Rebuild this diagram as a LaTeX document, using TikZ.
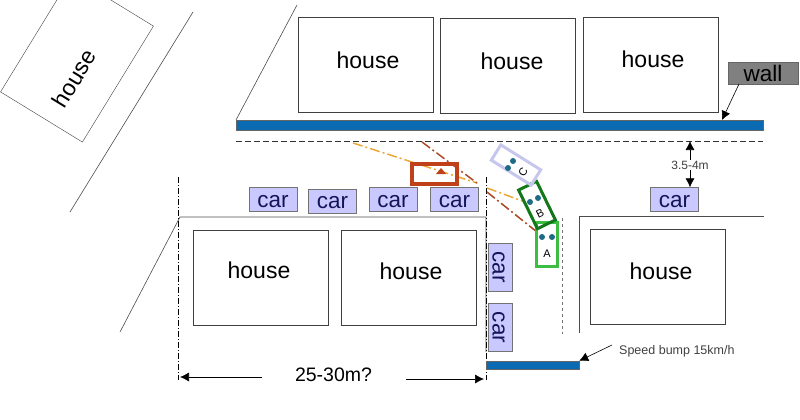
\documentclass[tikz,border=0pt]{standalone}
\usepackage{fontspec}
\setmainfont{Liberation Sans}
\usetikzlibrary{arrows.meta}
\definecolor{wallblue}{rgb}{0.04, 0.42, 0.70}
\definecolor{carblue}{rgb}{0.79, 0.79, 1.00}
\definecolor{carink}{rgb}{0.08, 0.08, 0.35}
\definecolor{lightgreen}{rgb}{0.24, 0.74, 0.26}
\definecolor{darkgreen}{rgb}{0.07, 0.47, 0.10}
\definecolor{lavender}{rgb}{0.78, 0.78, 0.93}
\definecolor{brickred}{rgb}{0.75, 0.25, 0.10}
\definecolor{sightorange}{rgb}{0.92, 0.66, 0.22}
\definecolor{sightred}{rgb}{0.68, 0.30, 0.16}
\definecolor{dotteal}{rgb}{0.12, 0.42, 0.52}
\tikzset{
  housebox/.style={draw=black!75, fill=white, inner sep=0pt, minimum width=135pt, minimum height=95pt},
  housetext/.style={inner sep=0pt, font=\fontsize{23}{26}\selectfont},
  carbox/.style={draw=black!55, fill=carblue, text=carink, inner sep=0pt, minimum width=48pt, minimum height=24pt, text height=15pt, text depth=0pt, font=\fontsize{22.5}{25}\selectfont},
  wallbar/.style={draw=black!60, fill=wallblue, inner sep=0pt},
  vehicle/.style={draw, inner sep=0pt},
  vehicletext/.style={inner sep=0pt, font=\fontsize{11}{13}\selectfont},
  seat/.style={circle, fill=dotteal, inner sep=0pt, minimum size=6pt},
  edgeline/.style={draw=black!70, line width=.6pt},
  dimline/.style={black, line width=.6pt, dash pattern=on 6pt off 2pt on 1pt off 2pt},
  sightline/.style={line width=1.5pt, dash pattern=on 10pt off 3pt on 2pt off 3pt},
  pointer/.style={-{Latex[length=9pt,width=9pt]}, black, line width=.6pt},
  smalltext/.style={text=black!75, inner sep=1pt, font=\fontsize{12.5}{14}\selectfont}
}
\begin{document}
\begin{tikzpicture}[x=1pt,y=-1pt]
\useasboundingbox (0,0) rectangle (800,420);
% houses
\node[housebox, minimum width=136pt, minimum height=96pt, rotate=58.5] (house0) at (77,59) {};
\node[housebox] (house1) at (365.5,64.5) {};
\node[housebox] (house2) at (508,65.5) {};
\node[housebox] (house3) at (650.5,64.5) {};
\node[housebox] (house4) at (261,277.5) {};
\node[housebox] (house5) at (408.5,277.5) {};
\node[housebox] (house6) at (658,276.5) {};
\node[housetext, rotate=58.5] (name0) at (74,78) {house};
\node[housetext] (name1) at (368,60) {house};
\node[housetext] (name2) at (512,61) {house};
\node[housetext] (name3) at (653,59) {house};
\node[housetext] (name4) at (259,270) {house};
\node[housetext] (name5) at (411,271) {house};
\node[housetext] (name6) at (661,271) {house};
% road edges
\coordinate (c1) at (193,12);
\coordinate (c2) at (70,212);
\coordinate (c3) at (297,5);
\coordinate (c4) at (236,120);
\coordinate (c5) at (180,217);
\coordinate (c6) at (120,332);
\coordinate (c7) at (486,217);
\coordinate (c8) at (486,352);
\coordinate (c9) at (764,216);
\coordinate (c10) at (579,216);
\coordinate (c11) at (579,333);
\draw[edgeline] (c1) -- (c2);
\draw[edgeline] (c3) -- (c4);
\draw[edgeline] (c6) -- (c5) -- (c7) -- (c8);
\draw[edgeline] (c9) -- (c10) -- (c11);
% wall
\node[wallbar, minimum width=527pt, minimum height=10pt] (wall) at (499.5,125) {};
\coordinate (d1) at (236,141);
\coordinate (d2) at (763,141);
\draw[black!80, dash pattern=on 6pt off 3pt, line width=.6pt] (d1) -- (d2);
\node[draw=black!60, fill=black!50, inner sep=0pt, minimum width=70pt, minimum height=22pt, font=\fontsize{22.5}{25}\selectfont] (walllabel) at (763,73) {wall};
\coordinate (w1) at (739,84);
\coordinate (w2) at (722,120);
\draw[pointer] (w1) -- (w2);
% cars
\node[carbox] (car1) at (273,199.5) {car};
\node[carbox] (car2) at (332.5,201) {car};
\node[carbox] (car3) at (393,199.5) {car};
\node[carbox] (car4) at (454.5,199.5) {car};
\node[carbox] (car5) at (674.5,199.5) {car};
\node[carbox, rotate=-90] (car6) at (500,267) {car};
\node[carbox, rotate=-90] (car7) at (500,327.5) {car};
% distance to the parked car
\node[smalltext, fill=white, font=\fontsize{12}{14}\selectfont] (gap) at (690,165) {3.5-4m};
\draw[pointer] (gap) -- (car5.north -| gap);
\draw[pointer] (gap) -- (d2 -| gap);
% middle of the road and dimension lines
\coordinate (m1) at (562,218);
\coordinate (m2) at (562,334);
\draw[black!55, dashed, line width=.9pt] (m1) -- (m2);
\coordinate (v1) at (178,177);
\coordinate (v2) at (178,380);
\coordinate (v3) at (486,177);
\coordinate (v4) at (486,380);
\draw[dimline] (v1) -- (v2);
\draw[dimline] (v3) -- (v4);
\node[inner sep=0pt, font=\fontsize{19.5}{22}\selectfont] (span) at (333.5,375) {25-30m?};
\coordinate (s1) at (180,377);
\coordinate (s2) at (484,379);
\draw[pointer] (span.west |- s1) ++(-33,0) -- (s1);
\draw[pointer] (span.east |- s2) ++(34,0) -- (s2);
% speed bump
\node[wallbar, minimum width=93pt, minimum height=8pt] (bump) at (532.5,365) {};
\node[smalltext, anchor=west] (bumplabel) at (618,351) {Speed bump 15km/h};
\coordinate (b1) at (612,345);
\draw[pointer] (b1) -- (bump.north east);
% sight lines
\coordinate (o1) at (353,143);
\coordinate (o2) at (477,183);
\coordinate (o3) at (487,188);
\coordinate (o4) at (525,202);
\coordinate (r1) at (422,142);
\coordinate (r2) at (477,183);
\coordinate (r3) at (487,192);
\coordinate (r4) at (537,232);
\draw[sightline, sightorange] (o1) -- (o2);
\draw[sightline, sightorange] (o3) -- (o4);
\draw[sightline, sightred] (r1) -- (r2);
\draw[sightline, sightred] (r3) -- (r4);
% vehicles
\node[vehicle, draw=brickred, line width=3.5pt, minimum width=45pt, minimum height=20pt] (other) at (434.5,174) {};
\fill[brickred] (436,174) -- (441,168) -- (446,174) -- cycle;
\node[vehicle, draw=lightgreen, line width=3pt, minimum width=21pt, minimum height=44pt] (carA) at (546.5,244) {};
\node[vehicle, draw=darkgreen, line width=3pt, minimum width=20pt, minimum height=43pt, rotate=26] (carB) at (537,205) {};
\node[vehicle, draw=lavender, line width=3pt, minimum width=18pt, minimum height=47pt, rotate=58] (carC) at (516,165) {};
\node[vehicletext] (nameA) at (547,254) {A};
\node[vehicletext, rotate=26] (nameB) at (540,213) {B};
\node[vehicletext, rotate=58] (nameC) at (523,172) {C};
\foreach \n/\x/\y in {a1/542/237, a2/552/237, b1/530/202, b2/538/198, c1/508/168, c2/513/161}
  \node[seat] (seat\n) at (\x,\y) {};
\end{tikzpicture}
\end{document}
